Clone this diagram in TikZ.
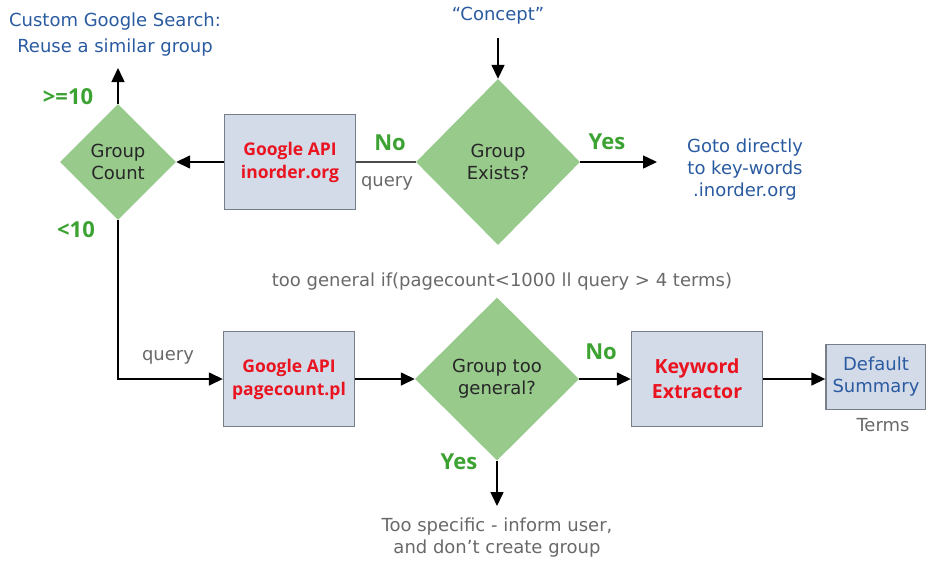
\documentclass[tikz,border=0pt]{standalone}
\usepackage{fontspec}
\setmainfont{DejaVu Sans}
\newfontfamily\boldsans{Open Sans}
\usepackage{tikz}
\usetikzlibrary{positioning,shapes.geometric,arrows.meta}
\definecolor{decgreen}{RGB}{152,202,140}
\definecolor{boxblue}{RGB}{211,219,233}
\definecolor{boxline}{RGB}{118,126,138}
\definecolor{apired}{RGB}{234,20,32}
\definecolor{labgreen}{RGB}{60,162,50}
\definecolor{noteblue}{RGB}{42,90,160}
\definecolor{notegray}{RGB}{105,105,105}
\tikzset{
  decbox/.style={diamond,aspect=1,fill=decgreen,draw=none,inner sep=0pt,
    align=center,font=\fontsize{18}{22}\selectfont,text=black!85},
  apibox/.style={rectangle,draw=boxline,line width=1.4pt,fill=boxblue,
    align=center,text=apired,font=\boldsans\bfseries\fontsize{17.5}{23}\selectfont,
    minimum width=131pt,minimum height=95pt},
  sumbox/.style={rectangle,draw=boxline,line width=1.4pt,fill=boxblue,
    align=center,text=noteblue,font=\fontsize{18}{22}\selectfont,
    minimum width=100pt,minimum height=65pt,inner sep=1pt},
  bluenote/.style={align=center,text=noteblue,font=\fontsize{18}{22}\selectfont},
  graynote/.style={align=center,text=notegray,font=\fontsize{18}{22}\selectfont},
  yesno/.style={text=labgreen,font=\boldsans\bfseries\fontsize{22}{24}\selectfont},
  fl/.style={-{Triangle[length=14pt,width=13pt]},draw=black,line width=1.5pt},
  plainline/.style={draw=black!70,line width=1.5pt},
}
\begin{document}
\begin{tikzpicture}[x=1pt,y=-1pt]
  \useasboundingbox (0,0) rectangle (926,563);
  \node[decbox,minimum width=116pt,minimum height=116pt] (gcount) at (118,162) {Group\\Count};
  \node[apibox] (inorder) at (290,162) {Google API\\inorder.org};
  \node[decbox,minimum width=164pt,minimum height=166pt] (exists) at (498,162) {Group\\Exists?};
  \node[bluenote] (concept) at (498,16) {“Concept”};
  \node[bluenote] (gotodir) at (745,170) {Goto directly\\to key-words\\.inorder.org};
  \node[bluenote,font=\fontsize{18}{26}\selectfont] (custom) at (115,35) {Custom Google Search:\\Reuse a similar group};
  \node[apibox] (pagecnt) at (289,379) {Google API\\pagecount.pl};
  \node[decbox,minimum width=164pt,minimum height=163pt] (toogen) at (497,379) {Group too\\general?};
  \node[apibox,font=\boldsans\bfseries\fontsize{19.5}{25}\selectfont] (kwext) at (697,379) {Keyword\\Extractor};
  \node[sumbox] (defsum) at (876,377) {Default\\Summary};
  \node[graynote] (terms) at (883,425) {Terms};
  \node[graynote] (rule) at (502,282) {too general if(pagecount<1000 ll query > 4 terms)};
  \node[graynote] (toospec) at (497,538) {Too specific - inform user,\\and don't create group};
  \node[graynote] (qtop) at (387,183) {query};
  \node[graynote] (qbot) at (168,357) {query};
  \node[yesno] (noone) at (390,143) {No};
  \node[yesno] (yesone) at (607,142) {Yes};
  \node[yesno] (gtten) at (68,97) {>=10};
  \node[yesno] (ltten) at (76,230) {<10};
  \node[yesno] (notwo) at (601,352) {No};
  \node[yesno] (yestwo) at (459,462) {Yes};
  \coordinate (reuse) at (118,68);
  \coordinate (yesend) at (657,162);
  \coordinate (specend) at (497,506);
  \draw[fl] (concept) -- (exists.north) [shorten <=10pt];
  \draw[fl] (exists) -- (yesend);
  \draw[plainline] (inorder) -- (exists);
  \draw[fl] (inorder) -- (gcount);
  \draw[fl] (gcount) -- (reuse);
  \draw[fl] (gcount.south) |- (pagecnt.west);
  \draw[fl] (pagecnt) -- (toogen);
  \draw[fl] (toogen) -- (kwext);
  \draw[fl] (kwext.east) -- (defsum.west |- kwext.east);
  \draw[fl] (toogen) -- (specend);
\end{tikzpicture}
\end{document}
